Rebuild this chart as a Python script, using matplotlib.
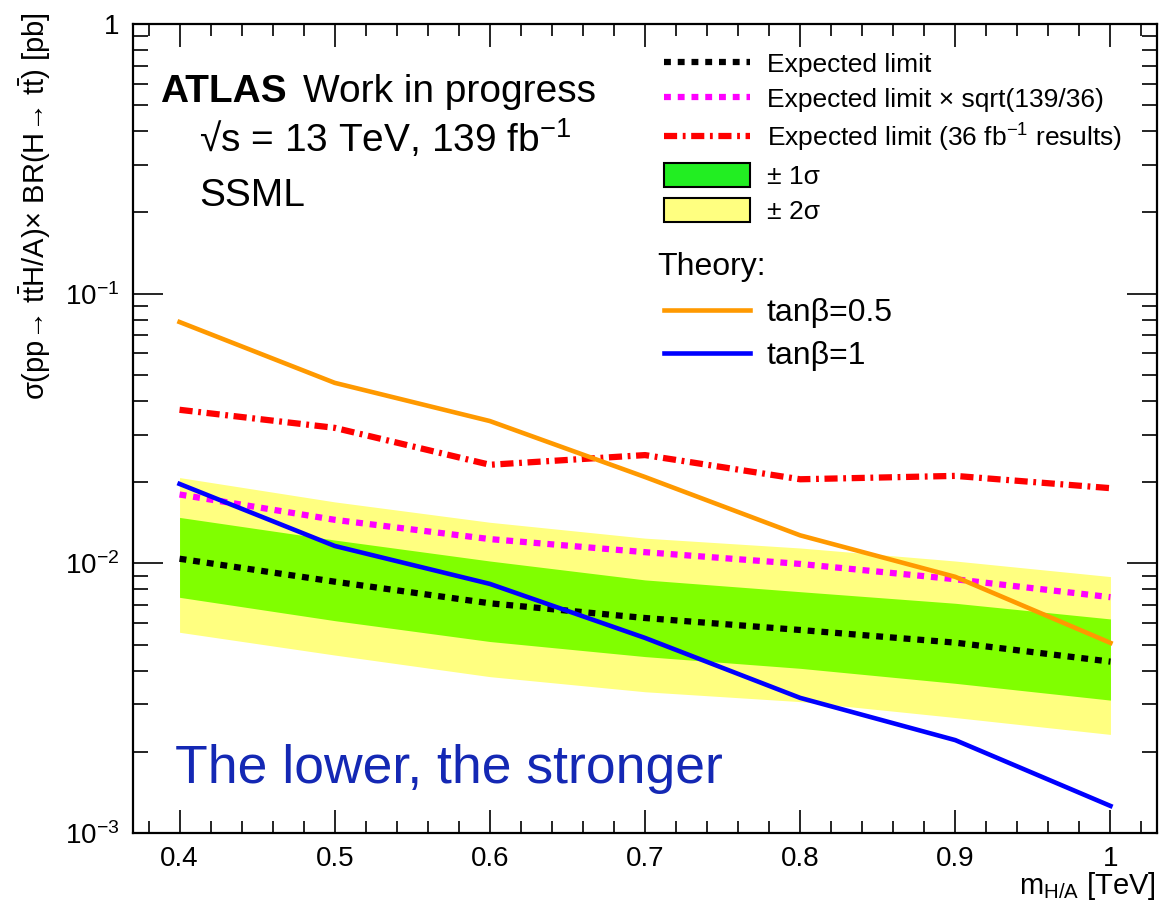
import numpy as np
import matplotlib.pyplot as plt
from matplotlib.lines import Line2D
from matplotlib.patches import Patch
from matplotlib.ticker import MultipleLocator, LogLocator, NullFormatter

plt.rcParams['font.family'] = ['Liberation Sans', 'DejaVu Sans']
plt.rcParams['mathtext.fontset'] = 'custom'
plt.rcParams['mathtext.rm'] = 'Liberation Sans'
plt.rcParams['mathtext.it'] = 'Liberation Sans:italic'
plt.rcParams['mathtext.bf'] = 'Liberation Sans:bold'

# m_H/A [TeV]
mass = [0.4, 0.5, 0.6, 0.7, 0.8, 0.9, 1.0]
mass_labels = ['0.4', '0.5', '0.6', '0.7', '0.8', '0.9', '1']

# limits [pb]
exp_limit = [0.0104, 0.00855, 0.00711, 0.00627, 0.00566, 0.00508, 0.00432]
exp_scaled = [0.0180, 0.0145, 0.0123, 0.0110, 0.00995, 0.00873, 0.00749]
exp_36fb = [0.0371, 0.0318, 0.0232, 0.0252, 0.0205, 0.0211, 0.0190]
band1_lo = [0.00748, 0.00613, 0.00513, 0.00451, 0.00408, 0.00359, 0.00311]
band1_hi = [0.0148, 0.0122, 0.0102, 0.00868, 0.00785, 0.00711, 0.00622]
band2_lo = [0.00555, 0.00457, 0.00380, 0.00334, 0.00307, 0.00268, 0.00232]
band2_hi = [0.0208, 0.0169, 0.0142, 0.0124, 0.0114, 0.0102, 0.00893]

# theory
theory_tb05 = [0.0785, 0.0467, 0.0337, 0.0209, 0.0127, 0.00891, 0.00507]
theory_tb1 = [0.0197, 0.0116, 0.00839, 0.00529, 0.00317, 0.00221, 0.00126]

ytick_vals = [1e-3, 1e-2, 1e-1, 1]
ytick_labels = ['$10^{-3}$', '$10^{-2}$', '$10^{-1}$', '1']

W, H = 1160, 909
fig = plt.figure(figsize=(W / 100, H / 100), dpi=100)
ax = fig.add_axes([133 / W, 1 - 833 / H, (1157 - 133) / W, (833 - 24) / H])

def fx(x, y):
    return x / W, 1 - y / H

yellow = '#ffff80'
green = '#80ff00'

ax.fill_between(mass, band2_lo, band2_hi, color=yellow, lw=0)
ax.fill_between(mass, band1_lo, band1_hi, color=green, lw=0)

dot = dict(lw=4.5, dashes=(1.1, 1.1), dash_capstyle='butt')
dashdot = dict(lw=4.5, dashes=(2.1, 0.9, 0.45, 0.9), dash_capstyle='butt')
ax.plot(mass, exp_limit, color='black', **dot)
ax.plot(mass, exp_scaled, color='#ff00ff', **dot)
ax.plot(mass, exp_36fb, color='#ff0000', **dashdot)
ax.plot(mass, theory_tb05, color='#ff9900', lw=3.3)
ax.plot(mass, theory_tb1, color='#0000ff', lw=3.3)

ax.set_yscale('log')
ax.set_xlim(0.37, 1.03)
ax.set_ylim(1e-3, 1)
ax.set_xticks(mass, mass_labels)
ax.xaxis.set_minor_locator(MultipleLocator(0.02))
ax.set_yticks(ytick_vals, ytick_labels)
ax.yaxis.set_minor_locator(LogLocator(base=10, subs=np.arange(2, 10)))
ax.yaxis.set_minor_formatter(NullFormatter())

ax.tick_params(which='both', direction='in', top=True, right=True, width=1.2, labelsize=20)
ax.tick_params(axis='x', which='major', length=16.5, pad=9)
ax.tick_params(axis='x', which='minor', length=8.5)
ax.tick_params(axis='y', which='major', length=21.5, pad=10)
ax.tick_params(axis='y', which='minor', length=11)
for s in ax.spines.values():
    s.set_linewidth(1.6)

# axis titles (ROOT style, flush to the ends)
fig.text(*fx(1156, 894), r'm$_{\rm H/A}$ [TeV]', fontsize=21, ha='right', va='baseline')
fig.text(*fx(35, 12), r'σ(pp→ t$\bar{\rm t}$H/A)× BR(H→ t$\bar{\rm t}$) [pb]',
         fontsize=21, rotation=90, ha='center', va='top')

# labels
fig.text(*fx(160, 102), 'ATLAS', fontsize=28, fontweight='bold', va='baseline')
fig.text(*fx(303, 102), 'Work in progress', fontsize=28, va='baseline')
fig.text(*fx(199, 152), r'√s = 13 TeV, 139 $\rm fb^{-1}$', fontsize=28, va='baseline')
fig.text(*fx(199, 206), 'SSML', fontsize=28, va='baseline')
fig.text(*fx(175, 783), 'The lower, the stronger', fontsize=38.5, color='#1428b4', va='baseline')
fig.text(*fx(657, 275), 'Theory:', fontsize=23, va='baseline')

# legends
h1 = [Line2D([], [], color='black', **dot),
      Line2D([], [], color='#ff00ff', **dot),
      Line2D([], [], color='#ff0000', **dashdot),
      Patch(facecolor='#22ee22', edgecolor='black', lw=1.5),
      Patch(facecolor=yellow, edgecolor='black', lw=1.5)]
l1 = ['Expected limit', 'Expected limit × sqrt(139/36)',
      r'Expected limit (36 $\rm fb^{-1}$ results)', '± 1σ', '± 2σ']
leg1 = ax.legend(h1, l1, loc='upper left', bbox_to_anchor=fx(664, 51), bbox_transform=fig.transFigure,
                 frameon=False, fontsize=19, handlelength=3.27, handleheight=1.05, handletextpad=0.65,
                 labelspacing=0.34, borderpad=0, borderaxespad=0)
ax.add_artist(leg1)

h2 = [Line2D([], [], color='#ff9900', lw=3.3), Line2D([], [], color='#0000ff', lw=3.3)]
l2 = ['tanβ=0.5', 'tanβ=1']
leg2 = ax.legend(h2, l2, loc='upper left', bbox_to_anchor=fx(664, 298), bbox_transform=fig.transFigure,
                 frameon=False, fontsize=23, handlelength=2.7, handletextpad=0.5,
                 labelspacing=0.42, borderpad=0, borderaxespad=0)

fig.savefig('out.png', dpi=100)
